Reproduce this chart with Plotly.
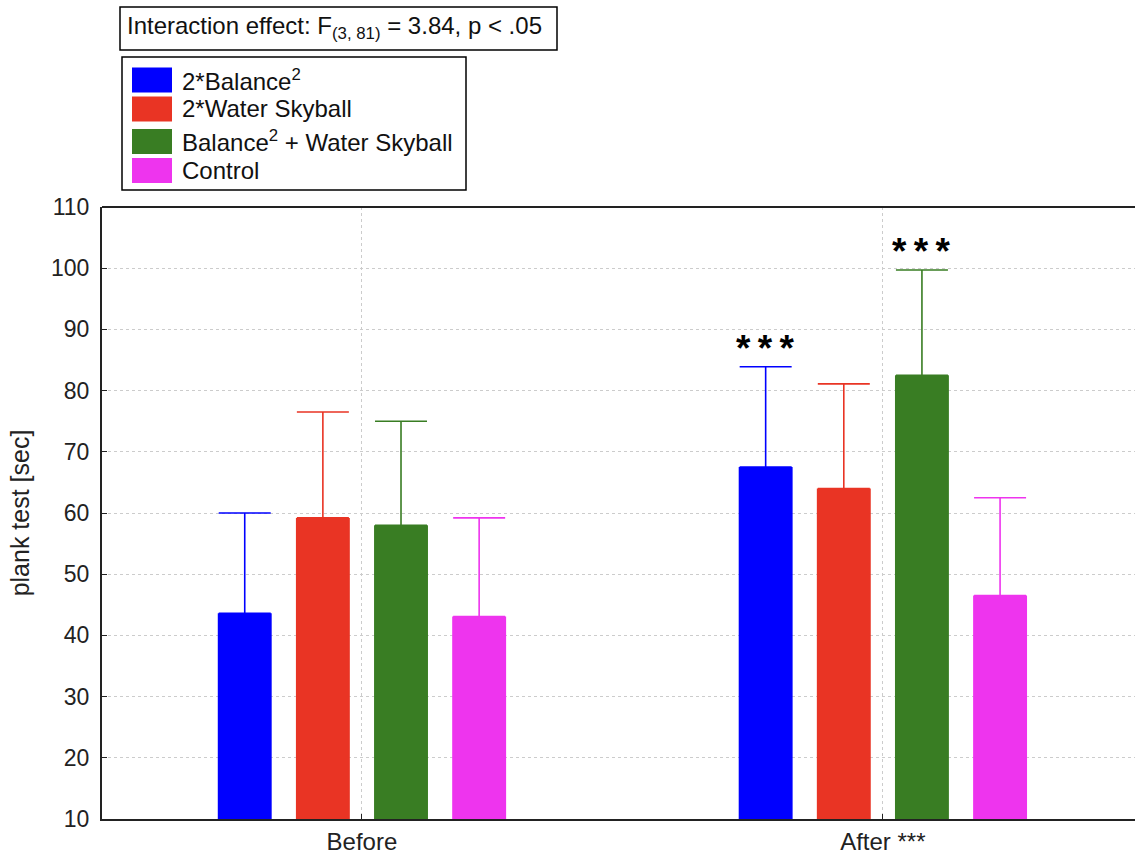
import plotly.graph_objects as go

# ---- data ----
timepoints = ["Before", "After ***"]
groups = ["2*Balance<sup>2</sup>", "2*Water Skyball",
          "Balance<sup>2</sup> + Water Skyball", "Control"]
colors = ["#0000FF", "#E93424", "#397D23", "#EE34EE"]
mean_balance = [43.6, 67.5]
mean_water = [59.2, 64.0]
mean_combo = [58.0, 82.5]
mean_control = [43.1, 46.5]
sd_balance = [16.4, 16.4]
sd_water = [17.3, 17.1]
sd_combo = [17.0, 17.2]
sd_control = [16.1, 16.0]
means = [mean_balance, mean_water, mean_combo, mean_control]
sds = [sd_balance, sd_water, sd_combo, sd_control]
# significance stars: (timepoint index, group index)
stars = [(1, 0), (1, 2)]
interaction_text = "Interaction effect: F<sub>(3, 81)</sub> = 3.84, p &lt; .05"

FONT = "Liberation Sans, Arial"
W, H = 1135, 856
ML, MR, MT, MB = 102, 0, 207, 37
PW, PH = W - ML - MR, H - MT - MB


def px(x):
    return (x - ML) / PW


def py(y):
    return (H - MB - y) / PH


fig = go.Figure()
for g, c, m, s in zip(groups, colors, means, sds):
    fig.add_trace(go.Bar(
        x=timepoints, y=m, name=g, marker=dict(color=c, line=dict(width=0)),
        error_y=dict(type="data", array=s, arrayminus=[0] * len(s), symmetric=False,
                     color=c, thickness=1.6, width=26),
        showlegend=False,
    ))

slot = 0.15
for ti, gi in stars:
    x = ti + (gi - 1.5) * slot
    fig.add_annotation(x=x, y=means[gi][ti] + sds[gi][ti] + 3.0, xref="x", yref="y",
                       text="<b>*\u2009*\u2009*</b>", showarrow=False,
                       font=dict(family=FONT, size=37, color="black"))

shapes = []
# top frame line of the plot area
shapes.append(dict(type="line", xref="paper", yref="paper", x0=0, x1=1.01, y0=1, y1=1,
                   line=dict(color="#222", width=2), layer="above"))
# interaction box
shapes.append(dict(type="rect", xref="paper", yref="paper",
                   x0=px(120), x1=px(557), y0=py(50), y1=py(7),
                   line=dict(color="black", width=1.5), fillcolor="white", layer="above"))
fig.add_annotation(xref="paper", yref="paper", x=px(125), y=py(28), xanchor="left",
                   yanchor="middle", text=interaction_text, showarrow=False,
                   font=dict(family=FONT, size=24, color="#111"))
# legend box
shapes.append(dict(type="rect", xref="paper", yref="paper",
                   x0=px(122), x1=px(466), y0=py(190), y1=py(57),
                   line=dict(color="black", width=1.5), fillcolor="white", layer="above"))
centers = [80, 109, 141.5, 170.5]
for g, c, cy in zip(groups, colors, centers):
    shapes.append(dict(type="rect", xref="paper", yref="paper",
                       x0=px(132), x1=px(172), y0=py(cy + 12.5), y1=py(cy - 12.5),
                       line=dict(width=0), fillcolor=c, layer="above"))
    fig.add_annotation(xref="paper", yref="paper", x=px(180), y=py(cy), xanchor="left",
                       yanchor="middle", text=g, showarrow=False,
                       font=dict(family=FONT, size=24, color="#111"))

fig.update_layout(
    width=W, height=H, margin=dict(l=ML, r=MR, t=MT, b=MB, autoexpand=False),
    plot_bgcolor="white", paper_bgcolor="white",
    barmode="group", bargap=0.4, bargroupgap=0.31,
    font=dict(family=FONT, color="#222"),
    shapes=shapes,
    xaxis=dict(type="category", range=[-0.499, 1.484], showline=True, linecolor="#222",
               linewidth=2, mirror=False, ticks="inside", ticklen=5, tickcolor="#222",
               showgrid=True, gridcolor="#cccccc", griddash="dot", gridwidth=1,
               automargin=False, tickfont=dict(size=24, color="#222")),
    yaxis=dict(range=[10, 110], dtick=10, tick0=10, showline=True, linecolor="#222",
               linewidth=2, mirror=False, ticks="inside", ticklen=5, tickcolor="#222",
               showgrid=True, gridcolor="#cccccc", griddash="dot", gridwidth=1,
               tickfont=dict(size=23, color="#222"), ticklabelstandoff=6,
               zeroline=False, automargin=False,
               title=dict(text="plank test [sec]", font=dict(size=25, color="#222"),
                          standoff=14)),
)
fig.write_html("out.html", config={"displayModeBar": False},
               post_script="document.body.style.margin='0';"
                           "document.body.style.overflow='hidden';")
